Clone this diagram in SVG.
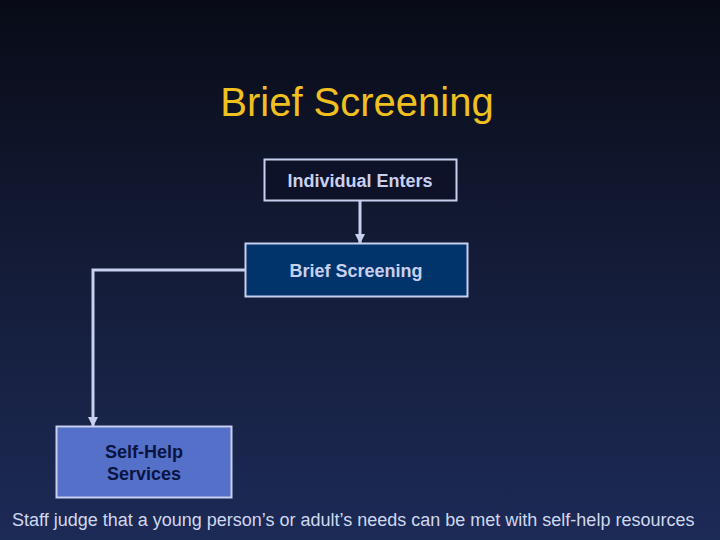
<svg xmlns="http://www.w3.org/2000/svg" width="720" height="540" viewBox="0 0 720 540">
<defs>
<linearGradient id="bg" x1="0" y1="0" x2="0" y2="1">
<stop offset="0" stop-color="#080b17"/>
<stop offset="0.5" stop-color="#141c38"/>
<stop offset="1" stop-color="#1c2a56"/>
</linearGradient>
<marker id="arr" viewBox="0 0 10 10" refX="9" refY="5" markerWidth="3.5" markerHeight="3.5" orient="auto" markerUnits="strokeWidth">
<path d="M0,0 L10,5 L0,10 z" fill="#c8d0f0"/>
</marker>
<style>
text{font-family:"Liberation Sans",Arial,sans-serif;}
.box{stroke:#c8d0f0;stroke-width:2;}
.lbl{font-size:18px;font-weight:bold;text-anchor:middle;}
.conn{fill:none;stroke:#c8d0f0;stroke-width:3;marker-end:url(#arr);}
</style>
</defs>
<rect width="720" height="540" fill="url(#bg)"/>
<text x="357" y="116" font-size="40" fill="#f0c020" text-anchor="middle">Brief Screening</text>
<g id="connectors">
<path class="conn" d="M360,201 V243"/>
<path class="conn" d="M245,270 H93 V426"/>
</g>
<g id="individual-enters">
<rect class="box" x="264.5" y="159.5" width="192" height="41" fill="#0e1229"/>
<text class="lbl" x="360" y="187" fill="#c8d0f0">Individual Enters</text>
</g>
<g id="brief-screening">
<rect class="box" x="245.5" y="243.5" width="222" height="53" fill="#00346b"/>
<text class="lbl" x="356" y="277" fill="#c8d0f0">Brief Screening</text>
</g>
<g id="self-help">
<rect class="box" x="56.5" y="426.5" width="175" height="71" fill="#5570c8"/>
<text class="lbl" x="144" y="458" fill="#0a1440">Self-Help</text>
<text class="lbl" x="144" y="480" fill="#0a1440">Services</text>
</g>
<text x="12" y="526" font-size="18" fill="#d0d8f0">Staff judge that a young person’s or adult’s needs can be met with self-help resources</text>
</svg>
